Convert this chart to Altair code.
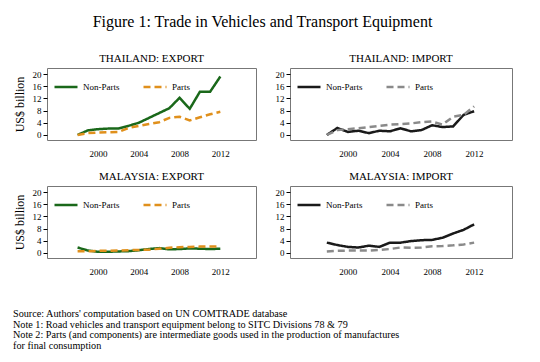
import altair as alt
import pandas as pd

years = list(range(1998, 2013))

th_exp_nonparts = [0.0, 1.5, 1.9, 2.1, 2.1, 3.0, 4.0, 5.6, 7.2, 8.8, 12.2, 8.6, 14.2, 14.2, 19.2]
th_exp_parts = [0.0, 0.6, 0.8, 0.9, 1.0, 2.3, 3.0, 3.6, 4.2, 5.6, 6.0, 4.8, 5.8, 6.8, 7.6]

th_imp_nonparts = [0.0, 2.3, 1.0, 1.4, 0.6, 1.4, 1.2, 2.2, 1.2, 1.6, 3.2, 2.6, 2.8, 6.6, 7.8]
th_imp_parts = [0.0, 1.6, 1.9, 2.2, 2.6, 3.0, 3.4, 3.6, 3.8, 4.2, 4.4, 3.4, 6.0, 6.6, 9.4]

my_exp_nonparts = [1.8, 0.8, 0.4, 0.4, 0.5, 0.6, 0.9, 1.3, 1.6, 1.2, 1.3, 1.5, 1.4, 1.3, 1.4]
my_exp_parts = [0.6, 0.6, 0.7, 0.7, 0.8, 0.9, 1.0, 1.1, 1.4, 1.7, 1.9, 2.0, 2.1, 2.1, 2.1]

my_imp_nonparts = [3.4, 2.6, 2.0, 1.8, 2.4, 2.0, 3.4, 3.4, 3.9, 4.2, 4.3, 5.0, 6.4, 7.6, 9.4]
my_imp_parts = [0.5, 0.7, 0.8, 0.8, 0.8, 1.0, 1.3, 1.8, 1.7, 1.8, 2.2, 2.3, 2.5, 2.8, 3.4]

series_names = ["Non-Parts", "Parts"]
export_colors = ["#1a681a", "#e0901c"]
import_colors = ["#1a1a1a", "#8a8a8a"]

panel_titles = ["THAILAND: EXPORT", "THAILAND: IMPORT", "MALAYSIA: EXPORT", "MALAYSIA: IMPORT"]
main_title = "Figure 1: Trade in Vehicles and Transport Equipment"
notes = [
    "Source: Authors' computation based on UN COMTRADE database",
    "Note 1: Road vehicles and transport equipment belong to SITC Divisions 78 & 79",
    "Note 2: Parts (and components) are intermediate goods used in the production of manufactures",
    "for final consumption",
]

FONT = "Liberation Serif"


def make_df(nonparts, parts):
    rows = []
    for y, v in zip(years, nonparts):
        rows.append({"year": y, "value": v, "series": "Non-Parts"})
    for y, v in zip(years, parts):
        rows.append({"year": y, "value": v, "series": "Parts"})
    return pd.DataFrame(rows)


def panel(nonparts, parts, colors, title, ytitle, width, xdomain):
    df = make_df(nonparts, parts)
    if ytitle:
        y_axis = alt.Axis(values=[0, 4, 8, 12, 16, 20], tickSize=4, labelPadding=2,
                          title=ytitle, titleFont=FONT, titleFontSize=12,
                          titleFontWeight="normal", titlePadding=6)
    else:
        y_axis = alt.Axis(values=[0, 4, 8, 12, 16, 20], tickSize=4, labelPadding=2, title=None)
    return alt.Chart(df).mark_line(strokeWidth=2.5).encode(
        x=alt.X("year:Q", scale=alt.Scale(domain=xdomain, nice=False, zero=False),
                axis=alt.Axis(values=[2000, 2004, 2008, 2012], format="d", ticks=False,
                              labelPadding=9, title=None)),
        y=alt.Y("value:Q", scale=alt.Scale(domain=[-1.65, 22], nice=False, zero=False),
                axis=y_axis),
        color=alt.Color("series:N", sort=series_names,
                        scale=alt.Scale(domain=series_names, range=colors),
                        legend=alt.Legend(title=None, orient="top-left", direction="horizontal",
                                          symbolType="stroke", symbolSize=529,
                                          symbolStrokeWidth=2.5, labelFont=FONT,
                                          labelFontSize=9, columnPadding=18,
                                          offset=6, padding=0)),
        strokeDash=alt.StrokeDash("series:N", sort=series_names,
                                  scale=alt.Scale(domain=series_names, range=[[1, 0], [7, 4]]),
                                  legend=None),
    ).properties(
        width=width, height=72,
        title=alt.TitleParams(title, font=FONT, fontSize=11, fontWeight="normal",
                              color="black", offset=4),
    )


p1 = panel(th_exp_nonparts, th_exp_parts, export_colors, panel_titles[0], "US$ billion", 209, [1995, 2015.5])
p2 = panel(th_imp_nonparts, th_imp_parts, import_colors, panel_titles[1], None, 222, [1994.5, 2015.6])
p3 = panel(my_exp_nonparts, my_exp_parts, export_colors, panel_titles[2], "US$ billion", 209, [1995, 2015.5])
p4 = panel(my_imp_nonparts, my_imp_parts, import_colors, panel_titles[3], None, 222, [1994.5, 2015.6])

row1 = alt.hconcat(p1, p2, spacing=17).resolve_scale(color="independent", strokeDash="independent")
row2 = alt.hconcat(p3, p4, spacing=17).resolve_scale(color="independent", strokeDash="independent")

notes_df = pd.DataFrame({"i": list(range(len(notes))), "text": notes})
notes_chart = alt.Chart(notes_df).mark_text(
    align="left", baseline="middle", font=FONT, fontSize=10.2, color="black"
).encode(
    x=alt.value(-34),
    y=alt.Y("i:O", axis=None, scale=alt.Scale(paddingInner=0, paddingOuter=0.5)),
    text="text:N",
).properties(width=460, height=42, view=alt.ViewBackground(stroke=None))

chart = alt.vconcat(
    alt.vconcat(row1, row2, spacing=11).resolve_scale(color="independent", strokeDash="independent"),
    notes_chart, spacing=32
).resolve_scale(
    color="independent", strokeDash="independent"
).properties(
    title=alt.TitleParams(main_title, font=FONT, fontSize=16, fontWeight="normal",
                          color="black", anchor="middle", offset=23),
    background="white",
    padding={"left": 4, "top": 5, "right": 5, "bottom": 5},
).configure_view(stroke="#777777", strokeWidth=1).configure_axis(
    grid=False, domain=False, labelFont=FONT, labelFontSize=9, labelColor="black",
    tickColor="black", titleColor="black"
)

chart.save("out.html", embed_options={"renderer": "svg", "actions": False})
